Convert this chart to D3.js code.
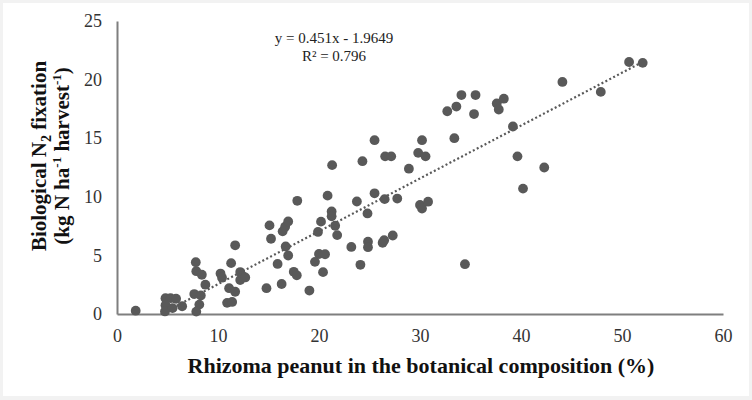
<!DOCTYPE html>
<html>
<head>
<meta charset="utf-8">
<script src="https://cdn.jsdelivr.net/npm/d3@7"></script>
<style>
  html, body { margin: 0; padding: 0; background: #fff; }
  svg { display: block; }
</style>
</head>
<body>
<svg id="chart" width="752" height="400"></svg>
<script>
// ---- Data ----
const xValues = [1.85, 4.8, 5.3, 5.85, 4.8, 4.75, 5.5, 6.45, 7.8, 7.85, 8.4, 8.75, 7.65, 8.3, 8.15, 7.85,
  10.25, 10.4, 11.3, 11.7, 11.1, 11.7, 10.9, 11.4, 12.2, 12.5, 12.2, 12.7, 14.8, 16.3, 15.9, 15.1,
  15.25, 16.4, 16.65, 16.95, 16.7, 16.95, 17.5, 17.8, 17.85, 19.05, 19.6, 19.9, 20.2, 20.0, 20.6,
  20.4, 20.85, 21.3, 21.25, 21.25, 21.6, 21.8, 23.2, 23.75, 24.3, 24.1, 24.8, 24.85, 24.85, 25.5,
  25.5, 26.3, 26.45, 26.5, 26.55, 27.15, 27.3, 27.75, 28.9, 29.82, 30.2, 30.55, 30.0, 30.2, 30.8,
  32.7, 33.4, 33.6, 34.1, 34.45, 35.35, 35.5, 37.6, 37.8, 38.3, 39.2, 39.65, 40.2, 42.3, 44.1,
  47.9, 50.7, 52.05];
const yValues = [0.28, 1.35, 1.35, 1.3, 0.75, 0.22, 0.5, 0.66, 4.42, 3.65, 3.35, 2.5, 1.7, 1.58, 0.8, 0.2,
  3.45, 3.1, 4.34, 5.86, 2.2, 1.9, 0.95, 1.03, 3.58, 3.2, 2.9, 3.12, 2.2, 2.56, 4.27, 7.56,
  6.42, 7.05, 7.45, 7.9, 5.76, 4.99, 3.6, 3.3, 9.66, 2.0, 4.45, 7.0, 7.88, 5.12, 5.1,
  3.57, 10.1, 12.7, 8.75, 8.33, 7.53, 6.73, 5.72, 9.6, 13.04, 4.2, 8.58, 6.17, 5.7, 14.83,
  10.3, 6.08, 6.3, 9.8, 13.45, 13.45, 6.7, 9.85, 12.4, 13.75, 14.83, 13.45, 9.3, 9.0, 9.58,
  17.3, 15.0, 17.7, 18.68, 4.25, 17.06, 18.68, 17.96, 17.45, 18.37, 16.0, 13.45, 10.7, 12.5, 19.8,
  18.95, 21.5, 21.43];
const xTicks = [0, 10, 20, 30, 40, 50, 60];
const yTicks = [0, 5, 10, 15, 20, 25];
const slope = 0.451;
const intercept = -1.9649;
const equationText = "y = 0.451x - 1.9649";
const r2Text = "R² = 0.796";
const xTitle = "Rhizoma peanut in the botanical composition (%)";

// ---- Chart ----
const svg = d3.select("#chart");
const W = 752, H = 400;

// light frame
svg.append("rect").attr("width", W).attr("height", H).attr("fill", "#f2f2f2");
svg.append("rect").attr("x", 3).attr("y", 3).attr("width", W - 6).attr("height", H - 7).attr("fill", "#ffffff");

const x = d3.scaleLinear().domain([0, 60]).range([117, 723]);
const y = d3.scaleLinear().domain([0, 25]).range([314, 21]);

const serif = "'Liberation Serif', 'Times New Roman', serif";
const axisColor = "#7f7f7f";
const dotColor = "#595959";

// axes
const xAxis = d3.axisBottom(x).tickValues(xTicks).tickSize(0).tickPadding(15);
const yAxis = d3.axisLeft(y).tickValues(yTicks).tickSize(0).tickPadding(15);

const gx = svg.append("g").attr("transform", `translate(0,${y(0)})`).call(xAxis);
const gy = svg.append("g").attr("transform", `translate(${x(0)},0)`).call(yAxis);

[gx, gy].forEach(g => {
  g.select(".domain").attr("stroke", axisColor).attr("stroke-width", 2);
  g.selectAll("text").attr("font-family", serif).attr("font-size", 18).attr("fill", "#333");
});
gx.selectAll("text").attr("dy", "0.71em");

// trend line (clipped to plot area: from y=0 to max x)
const xStart = Math.max(d3.min(xValues), -intercept / slope);
const xEnd = d3.max(xValues);
svg.append("line")
  .attr("x1", x(xStart)).attr("y1", y(slope * xStart + intercept))
  .attr("x2", x(xEnd)).attr("y2", y(slope * xEnd + intercept))
  .attr("stroke", dotColor).attr("stroke-width", 2.2)
  .attr("stroke-dasharray", "2 2.4");

// points
const pts = xValues.map((v, i) => ({ x: v, y: yValues[i] }));
svg.append("g").selectAll("circle").data(pts).join("circle")
  .attr("cx", d => x(d.x)).attr("cy", d => y(d.y)).attr("r", 4.9)
  .attr("fill", dotColor);

// equation
svg.append("text").attr("x", 334).attr("y", 43).attr("text-anchor", "middle")
  .attr("font-family", serif).attr("font-size", 15).attr("fill", "#222").text(equationText);
svg.append("text").attr("x", 334).attr("y", 61).attr("text-anchor", "middle")
  .attr("font-family", serif).attr("font-size", 15).attr("fill", "#222").text(r2Text);

// x title
svg.append("text").attr("x", 421).attr("y", 373).attr("text-anchor", "middle")
  .attr("font-family", serif).attr("font-size", 22).attr("font-weight", "bold")
  .attr("fill", "#111").text(xTitle);

// y title (two lines, rotated)
const yt = svg.append("text")
  .attr("transform", "translate(0,156) rotate(-90)")
  .attr("text-anchor", "middle")
  .attr("font-family", serif).attr("font-size", 21).attr("font-weight", "bold")
  .attr("fill", "#111");
const l1 = yt.append("tspan").attr("x", 0).attr("y", 46);
l1.append("tspan").text("Biological N");
l1.append("tspan").attr("font-size", 14).attr("dy", 5).text("2");
l1.append("tspan").attr("dy", -5).text(" fixation");
const l2 = yt.append("tspan").attr("x", 0).attr("y", 69);
l2.append("tspan").text("(kg N ha");
l2.append("tspan").attr("font-size", 13).attr("dy", -8).text("-1");
l2.append("tspan").attr("dy", 8).text(" harvest");
l2.append("tspan").attr("font-size", 13).attr("dy", -8).text("-1");
l2.append("tspan").attr("dy", 8).text(")");
</script>
</body>
</html>
